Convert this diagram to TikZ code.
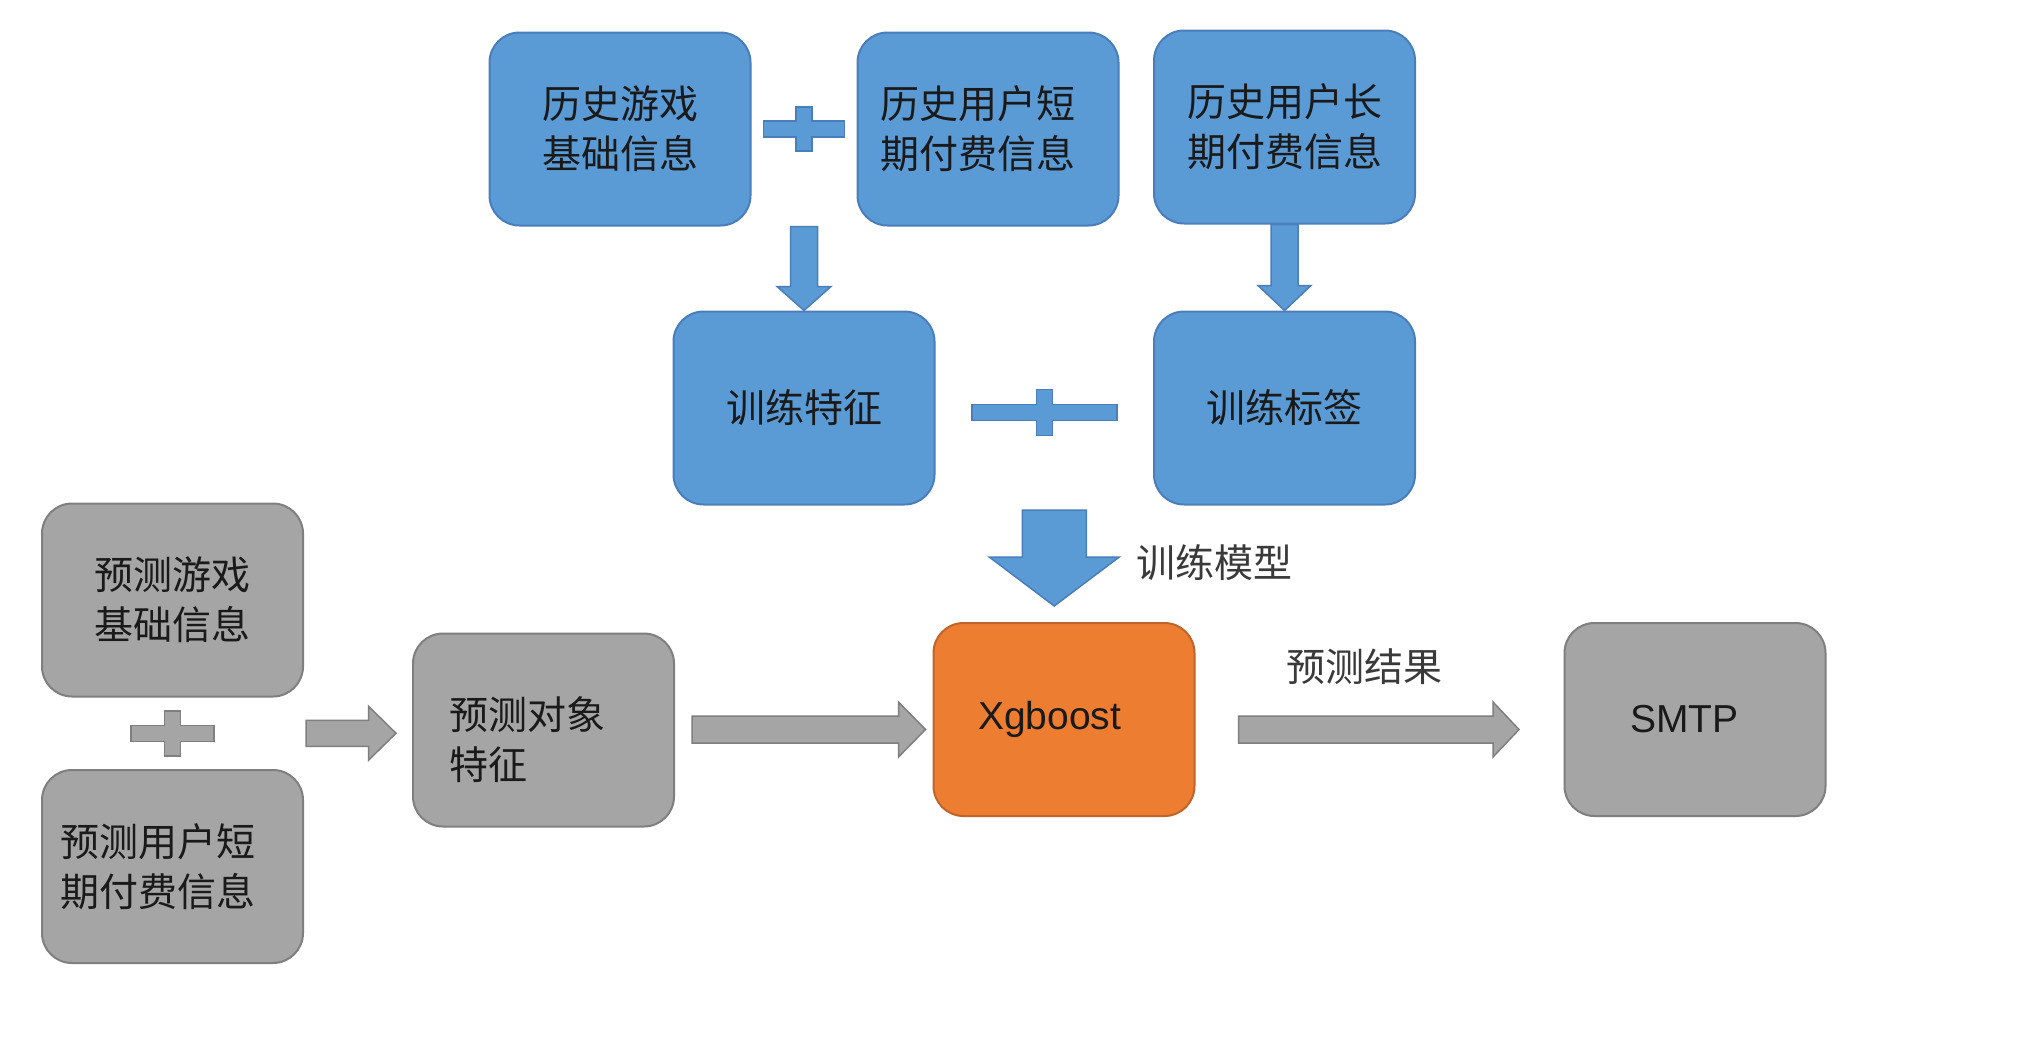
\documentclass[tikz,border=0pt]{standalone}
\usepackage{fontspec}
\setmainfont{Noto Sans CJK SC}
\newfontfamily\latfont{Liberation Sans}
\usetikzlibrary{calc}
\definecolor{bluefill}{HTML}{5B9BD5}
\definecolor{blueline}{HTML}{4A7EBB}
\definecolor{orfill}{HTML}{ED7D31}
\definecolor{orline}{HTML}{C0652A}
\definecolor{grfill}{HTML}{A5A5A5}
\definecolor{grline}{HTML}{7F7F7F}
\definecolor{txt}{HTML}{1A1A1A}
\definecolor{lbl}{HTML}{3A3A3A}

\tikzset{
  box/.style={rectangle, rounded corners=30pt, minimum width=261pt, minimum height=193pt,
    inner sep=0pt, line width=2pt, font=\fontsize{39}{50}\selectfont, text=txt, align=center},
  bluebox/.style={box, fill=bluefill, draw=blueline},
  graybox/.style={box, fill=grfill, draw=grline},
  orangebox/.style={box, fill=orfill, draw=orline},
  latin/.style={font=\latfont\fontsize{39}{47}\selectfont},
  lbltext/.style={inner sep=0pt, font=\fontsize{39}{50}\selectfont, text=lbl},
  shapeblue/.style={fill=bluefill, draw=blueline, line width=1.5pt, line join=miter},
  shapegray/.style={fill=grfill, draw=grline, line width=1.5pt, line join=miter},
}

% horizontal block arrow: [style]{start}{end}{shaft half}{head half}{head length}
\newcommand\blockright[6][]{%
  \path[#1] let \p1=(#2), \p2=(#3) in
    (\x1,{\y1+#4}) -- ({\x2-#6},{\y1+#4}) -- ({\x2-#6},{\y1+#5}) -- (\x2,\y1)
    -- ({\x2-#6},{\y1-#5}) -- ({\x2-#6},{\y1-#4}) -- (\x1,{\y1-#4}) -- cycle;}
% downward block arrow
\newcommand\blockdown[6][]{%
  \path[#1] let \p1=(#2), \p2=(#3) in
    ({\x1-#4},\y1) -- ({\x1-#4},{\y2+#6}) -- ({\x1-#5},{\y2+#6}) -- (\x1,\y2)
    -- ({\x1+#5},{\y2+#6}) -- ({\x1+#4},{\y2+#6}) -- ({\x1+#4},\y1) -- cycle;}
% plus sign: [style]{centre}{half width}{half height}{half thickness}
\newcommand\plussign[5][]{%
  \path[#1] let \p1=(#2) in
    ({\x1-#3},{\y1+#5}) -- ({\x1-#5},{\y1+#5}) -- ({\x1-#5},{\y1+#4}) -- ({\x1+#5},{\y1+#4})
    -- ({\x1+#5},{\y1+#5}) -- ({\x1+#3},{\y1+#5}) -- ({\x1+#3},{\y1-#5}) -- ({\x1+#5},{\y1-#5})
    -- ({\x1+#5},{\y1-#4}) -- ({\x1-#5},{\y1-#4}) -- ({\x1-#5},{\y1-#5}) -- ({\x1-#3},{\y1-#5}) -- cycle;}

\begin{document}
\begin{tikzpicture}[x=1pt, y=-1pt]
  \fill[white] (0,0) rectangle (2037,1061);
  \useasboundingbox (0,0) rectangle (2037,1061);

  % training part
  \node[bluebox] (A) at (620,129) {历史游戏\\基础信息};
  \node[bluebox, text width=215pt, align=left] (B) at (988,129) {历史用户短\\期付费信息};
  \node[bluebox] (C) at (1284.5,127) {历史用户长\\期付费信息};
  \node[bluebox] (D) at (804,408) {训练特征};
  \node[bluebox] (E) at (1284.5,408) {训练标签};

  % prediction part
  \node[graybox] (F) at (172.5,600) {预测游戏\\基础信息};
  \node[graybox, text width=225pt, align=left] (G) at (172.5,866.5) {预测用户短\\期付费信息};
  \node[graybox, text width=188pt, align=left] (H) at (543.5,730) {\rule{0pt}{52pt}预测对象\\特征};
  \node[orangebox, latin, text width=172pt, align=left] (X) at (1064,719.5) {Xgboost};
  \node[graybox, latin, text width=130pt, align=left] (S) at (1695,719.5) {SMTP};

  % labels
  \node[lbltext] (Lt) at (1214.5,563) {训练模型};
  \node[lbltext] (Lp) at (1364,667) {预测结果};

  % plus signs
  \coordinate (p1) at ($(A.east)!0.5!(B.west)$);
  \coordinate (p2) at ($(D.east)!0.5!(E.west)+(0,4.5)$);
  \coordinate (p3) at ($(F.south)!0.5!(G.north)$);
  \plussign[shapeblue]{p1}{40.5pt}{22pt}{8pt}
  \plussign[shapeblue]{p2}{72.5pt}{23pt}{8pt}
  \plussign[shapegray]{p3}{41.5pt}{22.5pt}{8pt}

  % block arrows
  \coordinate (abj) at ($(A.south east)!0.5!(B.south west)$);
  \blockdown[shapeblue]{abj}{D.north}{13.5pt}{27pt}{24pt}
  \blockdown[shapeblue]{C.south}{E.north}{13.5pt}{26.5pt}{25pt}
  \coordinate (dej) at ($(D.south east)!0.5!(E.south west)+(10,4.5)$);
  \coordinate (xin) at ($(X.north)+(0,-16)$);
  \blockdown[shapeblue]{dej}{xin}{32pt}{65pt}{49pt}

  \coordinate (fgj) at ($(F.south east)!0.5!(G.north east)+(2,0)$);
  \coordinate (hin) at ($(H.west)+(-16,0)$);
  \blockright[shapegray]{fgj}{hin}{13pt}{27pt}{27.5pt}
  \coordinate (hout) at ($(H.east)+(17,-0.5)$);
  \coordinate (xinl) at ($(X.west)+(-7,0)$);
  \blockright[shapegray]{hout}{xinl}{13.5pt}{27.5pt}{27pt}
  \coordinate (xout) at ($(X.east)+(43,10)$);
  \coordinate (sin) at ($(S.west)+(-44.5,0)$);
  \blockright[shapegray]{xout}{sin}{13.5pt}{27.5pt}{26pt}
\end{tikzpicture}
\end{document}
